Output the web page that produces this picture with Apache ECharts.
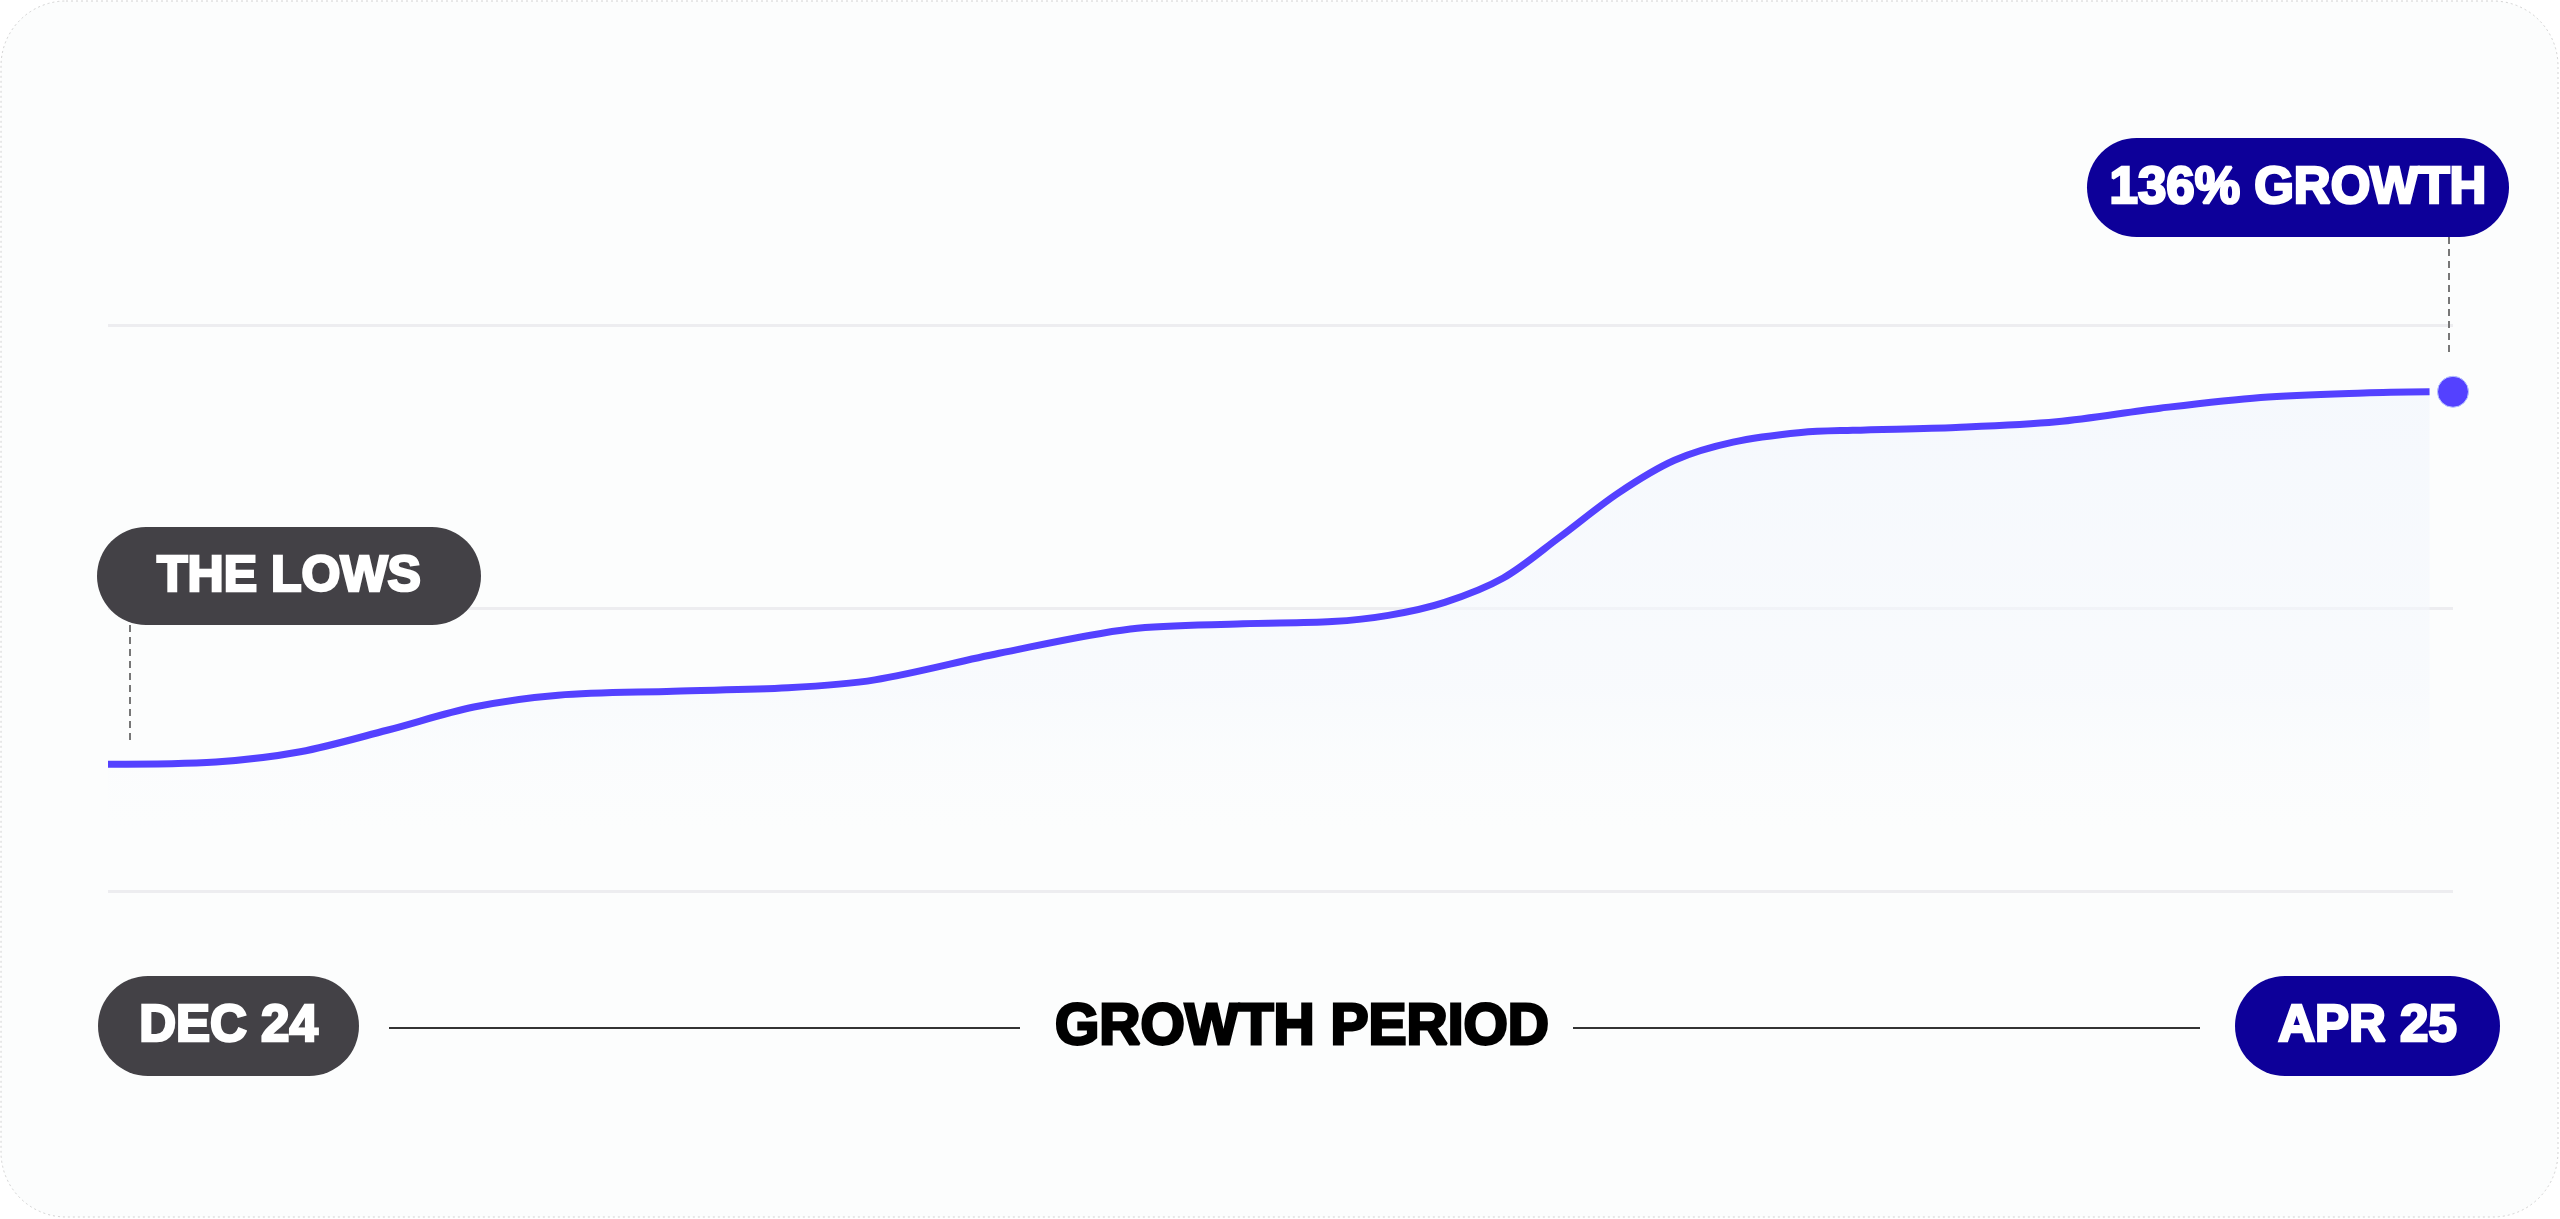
<!DOCTYPE html>
<html>
<head>
<meta charset="utf-8">
<script src="https://cdn.jsdelivr.net/npm/echarts@6/dist/echarts.min.js"></script>
<style>
  html, body { margin: 0; padding: 0; background: #ffffff; }
  #chart { width: 2560px; height: 1219px; }
</style>
</head>
<body>
<div id="chart"></div>
<script>
// Progress through the period (0 = Dec 24, 100 = Apr 25)
const periodX = [0, 4.6, 8.2, 11.9, 15.6, 19.2, 24.1, 29.0, 32.7, 38.0, 43.6, 48.4, 52.2, 54.6, 57.0, 59.5, 61.9, 64.4, 66.8, 69.3, 72.2, 74.4, 78.8, 83.1, 87.5, 91.8, 96.2, 99.0];
// Relative level of the growth curve
const growthY = [22.4, 22.8, 24.6, 28.4, 32.5, 34.6, 35.3, 35.9, 37.3, 42.0, 46.3, 47.2, 47.6, 48.7, 51.0, 55.3, 62.5, 70.3, 76.1, 79.3, 81.0, 81.4, 81.9, 82.9, 85.3, 87.2, 88.0, 88.2];
// End point marker
const endPoint = [100, 88.2];
// Texts
const lowLabel = 'THE LOWS';
const highLabel = '136% GROWTH';
const startLabel = 'DEC 24';
const endLabel = 'APR 25';
const periodLabel = 'GROWTH PERIOD';

const lineData = periodX.map((x, i) => [x, growthY[i]]);

const FONT = '"Liberation Sans", Arial, sans-serif';
function pill(x, y, w, h, fill, text, fontSize) {
  return {
    type: 'group', x: x, y: y, z: 100,
    children: [
      { type: 'rect', z: 100, shape: { x: 0, y: 0, width: w, height: h, r: h / 2 }, style: { fill: fill } },
      { type: 'text', z: 101, x: w / 2, y: h / 2 + 1, style: { text: text, fill: '#ffffff', stroke: '#ffffff', lineWidth: 2.6, font: 'bold ' + fontSize + 'px ' + FONT, align: 'center', verticalAlign: 'middle' } }
    ]
  };
}

const chart = echarts.init(document.getElementById('chart'), null, { renderer: 'canvas' });
chart.setOption({
  animation: false,
  backgroundColor: '#ffffff',
  grid: { left: 108, right: 107, top: 325, bottom: 328, containLabel: false },
  xAxis: {
    type: 'value', min: 0, max: 100,
    axisLine: { show: false }, axisTick: { show: false }, axisLabel: { show: false }, splitLine: { show: false }
  },
  yAxis: {
    type: 'value', min: 0, max: 100, interval: 50,
    axisLine: { show: false }, axisTick: { show: false }, axisLabel: { show: false },
    splitLine: { show: true, lineStyle: { color: '#EDEDF0', width: 3 } }
  },
  series: [
    {
      type: 'line', data: lineData, smooth: 0.32, symbol: 'none', z: 5,
      lineStyle: { color: '#5441FF', width: 7 },
      areaStyle: {
        color: new echarts.graphic.LinearGradient(0, 0, 0, 1, [
          { offset: 0, color: 'rgba(242,246,253,0.95)' },
          { offset: 0.6, color: 'rgba(245,248,253,0.75)' },
          { offset: 1, color: 'rgba(255,255,255,0)' }
        ])
      }
    },
    {
      type: 'scatter', data: [endPoint], symbol: 'circle', symbolSize: 31, z: 6, clip: false,
      itemStyle: { color: '#5441FF', opacity: 1, borderColor: '#B8C4FF', borderWidth: 1 }
    }
  ],
  graphic: [
    { type: 'rect', z: -10, shape: { x: 1, y: 1, width: 2557, height: 1216, r: 65 },
      style: { fill: '#FCFDFD', stroke: '#D2D2D2', lineWidth: 1, lineDash: [2, 3] } },
    // connectors
    { type: 'line', z: 90, shape: { x1: 130, y1: 625, x2: 130, y2: 744 },
      style: { stroke: '#777777', lineWidth: 2, lineDash: [7, 5] } },
    { type: 'line', z: 90, shape: { x1: 2449, y1: 237, x2: 2449, y2: 356 },
      style: { stroke: '#777777', lineWidth: 2, lineDash: [7, 5] } },
    pill(97, 527, 384, 98, '#434146', lowLabel, 50),
    pill(2087, 138, 422, 99, '#0D0099', highLabel, 51),
    pill(98, 976, 261, 100, '#434146', startLabel, 51),
    pill(2235, 976, 265, 100, '#0D0099', endLabel, 51),
    // period label with rules
    { type: 'line', z: 90, shape: { x1: 389, y1: 1028, x2: 1020, y2: 1028 }, style: { stroke: '#333333', lineWidth: 2 } },
    { type: 'line', z: 90, shape: { x1: 1573, y1: 1028, x2: 2200, y2: 1028 }, style: { stroke: '#333333', lineWidth: 2 } },
    { type: 'text', z: 90, x: 1302, y: 1028,
      style: { text: periodLabel, fill: '#000000', stroke: '#000000', lineWidth: 2.8, font: 'bold 57px ' + FONT, align: 'center', verticalAlign: 'middle' } }
  ]
});
</script>
</body>
</html>
